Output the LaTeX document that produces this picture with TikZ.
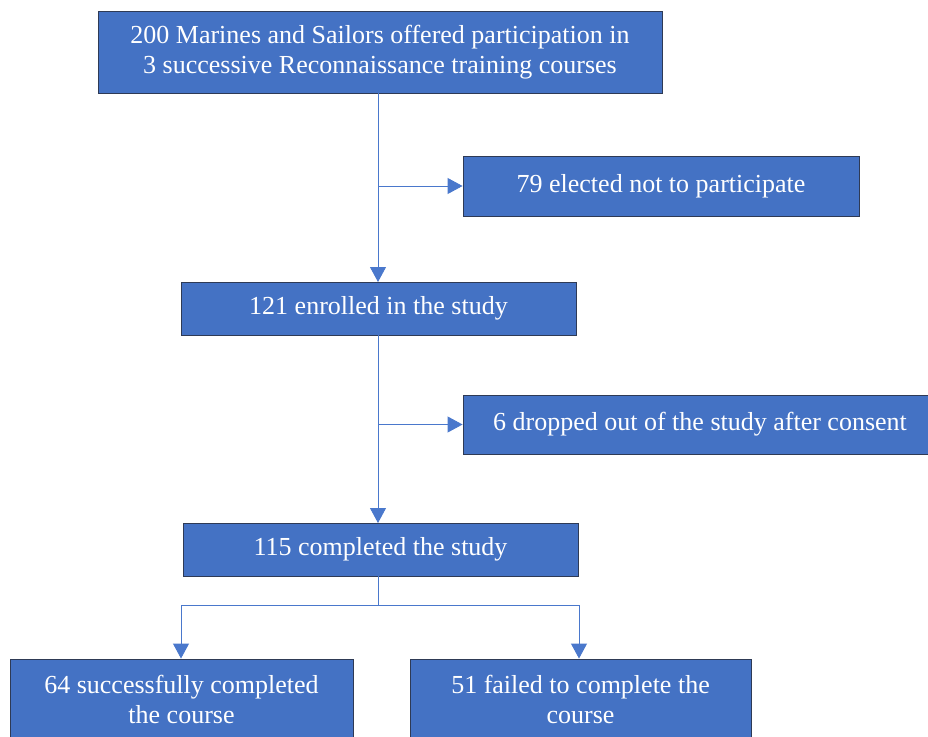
\documentclass[tikz,border=0pt]{standalone}
\usepackage{fontspec}
\setmainfont{Liberation Serif}
\usetikzlibrary{arrows.meta}
\definecolor{boxblue}{HTML}{4472C4}
\definecolor{boxedge}{HTML}{2E3A55}
\definecolor{linkblue}{HTML}{4A78CC}
\begin{document}
\begin{tikzpicture}[x=1pt,y=-1pt,
  flowbox/.style={draw=boxedge, line width=0.9pt, fill=boxblue, text=white,
    font=\fontsize{26}{30}\selectfont, align=center, inner sep=0pt},
  link/.style={draw=linkblue, line width=0.9pt},
  arr/.style={link, -{Triangle[length=15pt,width=16pt]}}]
\useasboundingbox (0,0) rectangle (928,736);
\clip (0,0) rectangle (928,736);
\node[flowbox, minimum width=564pt, minimum height=82pt] (b1) at (380,52)
  {200 Marines and Sailors offered participation in\\3 successive Reconnaissance training courses};
\node[flowbox, minimum width=396pt, minimum height=60pt] (b2) at (661,186)
  {79 elected not to participate};
\node[flowbox, minimum width=395pt, minimum height=53pt] (b3) at (378.5,308.5)
  {121 enrolled in the study};
\node[flowbox, minimum width=474pt, minimum height=59pt] (b4) at (700,424.5)
  {6 dropped out of the study after consent};
\node[flowbox, minimum width=395pt, minimum height=53pt] (b5) at (380.5,549.5)
  {115 completed the study};
\node[flowbox, minimum width=343pt, minimum height=80pt] (b6) at (181.5,699)
  {64 successfully completed\\the course};
\node[flowbox, minimum width=341pt, minimum height=80pt] (b7) at (580.5,699)
  {51 failed to complete the\\course};
\coordinate (s1) at (378,93);
\coordinate (e1) at (378,282);
\coordinate (j1) at (378,186);
\draw[arr] (s1) -- (e1);
\draw[arr] (j1) -- (b2.west);
\coordinate (s2) at (378,335);
\coordinate (e2) at (378,523);
\coordinate (j2) at (378,424.5);
\draw[arr] (s2) -- (e2);
\draw[arr] (j2) -- (b4.west);
\coordinate (s3) at (378,576);
\coordinate (j3) at (378,605);
\coordinate (l3) at (181,605);
\coordinate (r3) at (579,605);
\draw[link] (s3) -- (j3);
\draw[link] (l3) -- (r3);
\draw[arr] (l3) -- (l3 |- b6.north);
\draw[arr] (r3) -- (r3 |- b7.north);
\end{tikzpicture}
\end{document}
